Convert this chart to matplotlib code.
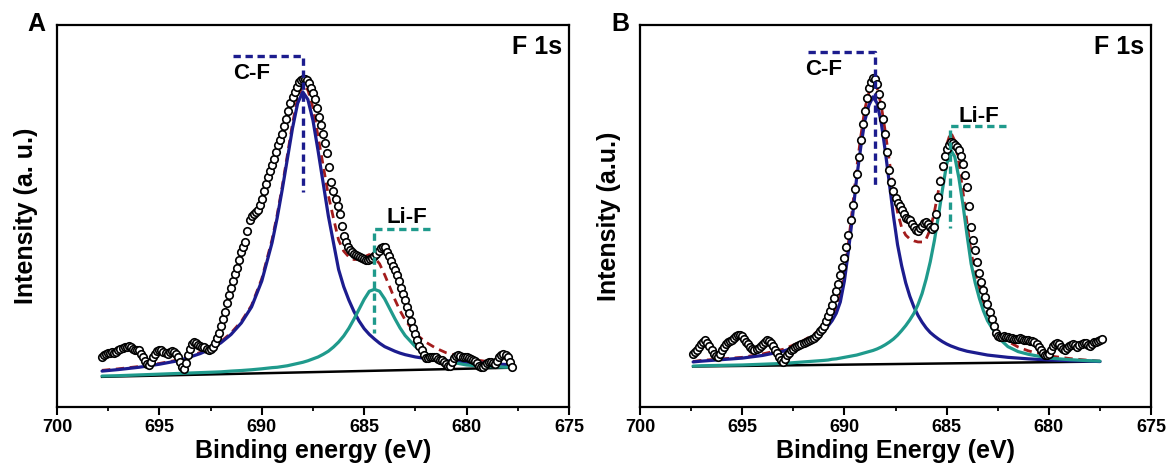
import numpy as np
import matplotlib
matplotlib.use("Agg")
import matplotlib.pyplot as plt
from matplotlib.ticker import MultipleLocator, FixedLocator

plt.rcParams['font.family'] = ['Liberation Sans', 'DejaVu Sans']
plt.rcParams['font.weight'] = 'bold'

# ---------------- data: panel A (scan 697.8 -> 677.8 eV, 0.1 eV step) ----------------
scan_a_start, scan_a_stop = 697.8, 677.8
counts_a = [0.132, 0.136, 0.138, 0.141, 0.142, 0.143, 0.142, 0.145, 0.148, 0.152,
            0.155, 0.157, 0.158, 0.160, 0.158, 0.153, 0.150, 0.150, 0.148, 0.140,
            0.130, 0.120, 0.112, 0.110, 0.118, 0.130, 0.140, 0.147, 0.150, 0.148,
            0.145, 0.141, 0.140, 0.143, 0.146, 0.145, 0.140, 0.130, 0.118, 0.106,
            0.100, 0.115, 0.135, 0.152, 0.165, 0.170, 0.168, 0.163, 0.160, 0.158,
            0.156, 0.152, 0.150, 0.152, 0.158, 0.167, 0.180, 0.195, 0.212, 0.230,
            0.250, 0.271, 0.292, 0.312, 0.330, 0.348, 0.365, 0.386, 0.405, 0.420,
            0.432, 0.462, 0.490, 0.500, 0.505, 0.510, 0.515, 0.528, 0.545, 0.565,
            0.585, 0.603, 0.618, 0.633, 0.650, 0.668, 0.685, 0.700, 0.715, 0.735,
            0.755, 0.776, 0.795, 0.811, 0.825, 0.838, 0.850, 0.856, 0.858, 0.858,
            0.855, 0.847, 0.835, 0.821, 0.805, 0.783, 0.760, 0.738, 0.715, 0.692,
            0.665, 0.628, 0.590, 0.565, 0.545, 0.525, 0.505, 0.475, 0.448, 0.432,
            0.420, 0.411, 0.405, 0.400, 0.398, 0.395, 0.392, 0.390, 0.388, 0.386,
            0.385, 0.387, 0.390, 0.394, 0.400, 0.408, 0.415, 0.420, 0.418, 0.407,
            0.395, 0.383, 0.370, 0.358, 0.345, 0.329, 0.312, 0.296, 0.280, 0.262,
            0.245, 0.226, 0.208, 0.191, 0.175, 0.160, 0.148, 0.137, 0.128, 0.127,
            0.130, 0.132, 0.132, 0.130, 0.126, 0.124, 0.122, 0.117, 0.112, 0.108,
            0.108, 0.118, 0.128, 0.133, 0.135, 0.133, 0.130, 0.130, 0.132, 0.129,
            0.125, 0.122, 0.120, 0.114, 0.108, 0.105, 0.105, 0.110, 0.115, 0.118,
            0.118, 0.115, 0.112, 0.120, 0.130, 0.136, 0.138, 0.135, 0.130, 0.118,
            0.105]

fit_energy_a = [697.8, 697, 696, 695, 694, 693, 692.5, 692, 691.5, 691, 690.5, 690,
                689.5, 689.25, 689, 688.75, 688.5, 688.25, 688, 687.75, 687.5, 687.25,
                687, 686.75, 686.5, 686.25, 686, 685.75, 685.5, 685.25, 685, 684.75,
                684.5, 684.25, 684, 683.75, 683.5, 683.25, 683, 682.5, 682, 681.5, 681,
                680, 679, 678, 677.7]
cf_a = [0.094, 0.098, 0.104, 0.112, 0.122, 0.140, 0.152, 0.168, 0.190, 0.220, 0.262, 0.330,
        0.430, 0.495, 0.570, 0.650, 0.730, 0.795, 0.825, 0.805, 0.750, 0.670,
        0.585, 0.500, 0.430, 0.360, 0.315, 0.280, 0.250, 0.225, 0.205, 0.190,
        0.178, 0.167, 0.158, 0.152, 0.146, 0.141, 0.137, 0.131, 0.127, 0.124, 0.121,
        0.117, 0.114, 0.111, 0.110]
lif_a = [0.081, 0.082, 0.084, 0.086, 0.088, 0.090, 0.091, 0.092, 0.094, 0.0955, 0.0975, 0.100,
         0.103, 0.104, 0.106, 0.108, 0.111, 0.114, 0.117, 0.121, 0.126, 0.131,
         0.138, 0.146, 0.157, 0.170, 0.186, 0.206, 0.230, 0.256, 0.282, 0.303,
         0.308, 0.303, 0.283, 0.257, 0.231, 0.207, 0.187, 0.158, 0.140, 0.128, 0.120,
         0.110, 0.106, 0.104, 0.103]
envelope_a = [0.096, 0.100, 0.106, 0.114, 0.124, 0.143, 0.155, 0.171, 0.194, 0.224, 0.266, 0.336,
              0.438, 0.503, 0.578, 0.660, 0.742, 0.810, 0.843, 0.830, 0.783, 0.708,
              0.631, 0.554, 0.494, 0.437, 0.408, 0.393, 0.386, 0.387, 0.393, 0.399,
              0.391, 0.375, 0.346, 0.314, 0.281, 0.252, 0.228, 0.192, 0.170, 0.154, 0.142,
              0.127, 0.119, 0.112, 0.110]
baseline_energy_a = [697.8, 677.7]
baseline_a = [0.079, 0.103]

# ---------------- data: panel B (scan 697.4 -> 677.4 eV, 0.1 eV step) ----------------
scan_b_start, scan_b_stop = 697.4, 677.4
counts_b = [0.140, 0.145, 0.150, 0.158, 0.165, 0.171, 0.175, 0.168, 0.160, 0.150,
            0.140, 0.134, 0.132, 0.140, 0.150, 0.158, 0.165, 0.169, 0.172, 0.176,
            0.180, 0.185, 0.188, 0.188, 0.185, 0.178, 0.170, 0.164, 0.158, 0.153,
            0.150, 0.152, 0.155, 0.160, 0.165, 0.171, 0.175, 0.173, 0.168, 0.160,
            0.150, 0.141, 0.132, 0.124, 0.118, 0.125, 0.135, 0.142, 0.148, 0.152,
            0.156, 0.159, 0.162, 0.165, 0.168, 0.170, 0.172, 0.175, 0.178, 0.181,
            0.185, 0.191, 0.198, 0.205, 0.212, 0.224, 0.238, 0.252, 0.268, 0.285,
            0.303, 0.323, 0.345, 0.367, 0.390, 0.418, 0.450, 0.490, 0.530, 0.570,
            0.610, 0.655, 0.700, 0.740, 0.775, 0.808, 0.835, 0.852, 0.860, 0.858,
            0.845, 0.820, 0.790, 0.755, 0.715, 0.668, 0.620, 0.590, 0.565, 0.548,
            0.535, 0.525, 0.515, 0.505, 0.495, 0.492, 0.490, 0.480, 0.470, 0.464,
            0.460, 0.468, 0.475, 0.482, 0.485, 0.478, 0.470, 0.465, 0.470, 0.505,
            0.550, 0.592, 0.630, 0.656, 0.675, 0.687, 0.694, 0.692, 0.686, 0.680,
            0.672, 0.656, 0.635, 0.608, 0.575, 0.525, 0.470, 0.438, 0.410, 0.380,
            0.350, 0.327, 0.305, 0.288, 0.270, 0.250, 0.230, 0.212, 0.195, 0.187,
            0.182, 0.184, 0.185, 0.184, 0.183, 0.181, 0.180, 0.179, 0.178, 0.179,
            0.180, 0.178, 0.176, 0.176, 0.175, 0.174, 0.172, 0.169, 0.165, 0.158,
            0.150, 0.142, 0.135, 0.136, 0.140, 0.150, 0.160, 0.165, 0.168, 0.164,
            0.158, 0.153, 0.150, 0.155, 0.160, 0.163, 0.165, 0.162, 0.158, 0.161,
            0.165, 0.167, 0.167, 0.163, 0.160, 0.165, 0.170, 0.171, 0.172, 0.175,
            0.178]

fit_energy_b = [697.4, 697, 696, 695, 694, 693, 692.5, 692, 691.5,
                691.0, 690.8, 690.6, 690.4, 690.2, 690.0, 689.8, 689.6, 689.4, 689.2,
                689.0, 688.8, 688.6, 688.4, 688.2, 688.0, 687.8, 687.6, 687.4, 687.2,
                687.0, 686.8, 686.6, 686.4, 686.2, 686.0, 685.8, 685.6, 685.4, 685.2,
                685.0, 684.8, 684.6, 684.4, 684.2, 684.0, 683.8, 683.6, 683.4, 683.2,
                683.0, 682.5, 682, 681.5, 681, 680, 679, 678, 677.5]
cf_b = [0.118, 0.120, 0.124, 0.128, 0.135, 0.146, 0.155, 0.166, 0.180,
        0.200, 0.212, 0.226, 0.245, 0.275, 0.330, 0.410, 0.500, 0.600, 0.680,
        0.750, 0.790, 0.812, 0.795, 0.745, 0.670, 0.585, 0.500, 0.425, 0.370,
        0.325, 0.290, 0.262, 0.240, 0.222, 0.207, 0.195, 0.186, 0.178, 0.171,
        0.165, 0.160, 0.156, 0.152, 0.149, 0.146, 0.144, 0.142, 0.140, 0.138,
        0.136, 0.133, 0.130, 0.128, 0.126, 0.123, 0.121, 0.120, 0.119]
lif_b = [0.107, 0.108, 0.109, 0.110, 0.112, 0.114, 0.116, 0.118, 0.120,
         0.122, 0.123, 0.125, 0.126, 0.128, 0.130, 0.132, 0.134, 0.136, 0.139,
         0.142, 0.145, 0.148, 0.152, 0.157, 0.163, 0.170, 0.178, 0.188, 0.200,
         0.213, 0.228, 0.245, 0.268, 0.297, 0.335, 0.380, 0.435, 0.500, 0.570,
         0.635, 0.673, 0.655, 0.600, 0.530, 0.450, 0.375, 0.325, 0.285, 0.252,
         0.226, 0.183, 0.158, 0.145, 0.138, 0.128, 0.124, 0.121, 0.120]
envelope_b = [0.119, 0.122, 0.126, 0.130, 0.139, 0.151, 0.162, 0.174, 0.190,
              0.212, 0.225, 0.241, 0.260, 0.292, 0.349, 0.431, 0.523, 0.625, 0.708,
              0.781, 0.823, 0.848, 0.835, 0.790, 0.721, 0.643, 0.570, 0.510, 0.470,
              0.450, 0.440, 0.435, 0.432, 0.432, 0.440, 0.465, 0.510, 0.566, 0.628,
              0.686, 0.719, 0.697, 0.638, 0.564, 0.481, 0.404, 0.352, 0.310, 0.275,
              0.247, 0.200, 0.172, 0.157, 0.147, 0.134, 0.127, 0.122, 0.120]
baseline_energy_b = [697.4, 677.5]
baseline_b = [0.106, 0.119]

# ---------------- annotations (peak markers) ----------------
# bracket: (x_start, x_corner, y_top, y_bottom)
cf_bracket_a = (691.4, 688.0, 0.920, 0.564)
lif_bracket_a = (681.8, 684.5, 0.466, 0.194)
cf_label_a = (690.5, 0.872)
lif_label_a = (682.9, 0.497)

cf_bracket_b = (691.8, 688.5, 0.930, 0.577)
lif_bracket_b = (682.1, 684.85, 0.736, 0.469)
cf_label_b = (691.0, 0.884)
lif_label_b = (683.4, 0.760)

x_ticks = [700, 695, 690, 685, 680, 675]
x_tick_labels = ['700', '695', '690', '685', '680', '675']

NAVY = '#1c1c8e'
TEAL = '#1f9a8c'
RED = '#a31c1c'

fig = plt.figure(figsize=(11.7, 4.7), dpi=100)
axA = fig.add_axes([57 / 1170, 1 - 407 / 470, 512 / 1170, 382 / 470])
axB = fig.add_axes([640 / 1170, 1 - 407 / 470, 511 / 1170, 382 / 470])


def draw_panel(ax, e_start, e_stop, counts, fit_e, cf, lif, env, base_e, base,
               cf_br, lif_br, cf_lab, lif_lab, xlabel, ylabel):
    energy = np.linspace(e_start, e_stop, len(counts))
    ax.plot(base_e, base, color='black', lw=1.8, zorder=2)
    ax.plot(fit_e, env, color=RED, lw=2.0, ls=(0, (3, 2)), zorder=2.5)
    ax.plot(fit_e, cf, color=NAVY, lw=2.3, zorder=3, solid_capstyle='round')
    ax.plot(fit_e, lif, color=TEAL, lw=2.3, zorder=4, solid_capstyle='round')
    ax.plot(energy, counts, ls='none', marker='o', ms=5.4, mfc='white', mec='black',
            mew=1.2, zorder=6)
    for br, col in ((cf_br, NAVY), (lif_br, TEAL)):
        x0, xc, yt, yb = br
        ax.plot([x0, xc, xc], [yt, yt, yb], color=col, lw=2.4, ls=(0, (2.2, 1.4)),
                zorder=7)
    ax.text(cf_lab[0], cf_lab[1], 'C-F', ha='center', va='center', fontsize=16,
            fontweight='bold', zorder=8)
    ax.text(lif_lab[0], lif_lab[1], 'Li-F', ha='center', va='center', fontsize=16,
            fontweight='bold', zorder=8)
    ax.text(0.987, 0.975, 'F 1s', transform=ax.transAxes, ha='right', va='top',
            fontsize=18, fontweight='bold')

    ax.set_xlim(700, 675)
    ax.set_ylim(0, 1)
    ax.xaxis.set_major_locator(FixedLocator(x_ticks))
    ax.set_xticklabels(x_tick_labels)
    ax.xaxis.set_minor_locator(MultipleLocator(2.5))
    ax.tick_params(axis='x', which='major', direction='out', length=6, width=1.5,
                   labelsize=13, pad=3)
    ax.tick_params(axis='x', which='minor', direction='out', length=3, width=1.3)
    for lab in ax.get_xticklabels():
        lab.set_fontweight('bold')
    ax.set_yticks([])
    for sp in ax.spines.values():
        sp.set_linewidth(1.6)
    ax.set_xlabel(xlabel, fontsize=18, fontweight='bold', labelpad=2)
    ax.set_ylabel(ylabel, fontsize=18, fontweight='bold', labelpad=14)


draw_panel(axA, scan_a_start, scan_a_stop, counts_a, fit_energy_a, cf_a, lif_a,
           envelope_a, baseline_energy_a, baseline_a, cf_bracket_a, lif_bracket_a,
           cf_label_a, lif_label_a, 'Binding energy (eV)', 'Intensity (a. u.)')
draw_panel(axB, scan_b_start, scan_b_stop, counts_b, fit_energy_b, cf_b, lif_b,
           envelope_b, baseline_energy_b, baseline_b, cf_bracket_b, lif_bracket_b,
           cf_label_b, lif_label_b, 'Binding Energy (eV)', 'Intensity (a.u.)')

fig.text(36 / 1170, 1 - 24 / 470, 'A', ha='center', va='center', fontsize=18,
         fontweight='bold')
fig.text(620 / 1170, 1 - 24 / 470, 'B', ha='center', va='center', fontsize=18,
         fontweight='bold')

fig.savefig('out.png', dpi=100)
